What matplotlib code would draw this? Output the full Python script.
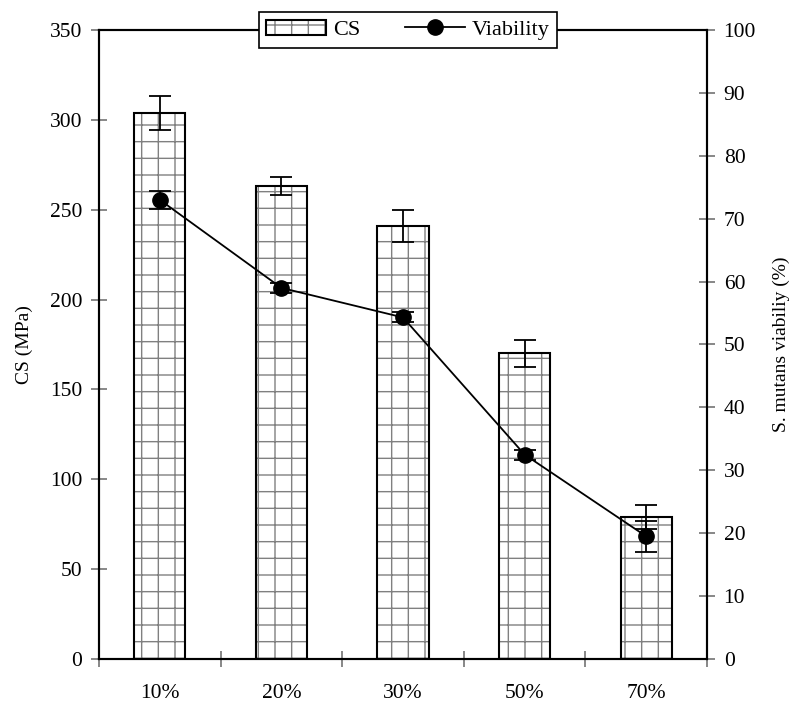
import matplotlib.pyplot as plt
import numpy as np

plt.rcParams['font.family'] = ['Liberation Serif', 'DejaVu Serif']
plt.rcParams['hatch.linewidth'] = 1.0

groups = ['10%', '20%', '30%', '50%', '70%']
cs = [304, 263, 241, 170, 79]
cs_err = [9.5, 5, 9, 7.5, 6.5]
viability = [73, 59, 54.3, 32.5, 19.5]
viab_err = [1.4, 0.8, 0.8, 0.8, 2.5]

fig = plt.figure(figsize=(7.93, 7.07), dpi=100)
ax = fig.add_axes([99 / 793, 48 / 707, 608 / 793, 629 / 707])
ax2 = ax.twinx()

x = np.arange(len(groups))
bars = ax.bar(x, cs, width=0.42, color='white', edgecolor='black', linewidth=1.5,
              hatch='+', label='CS', zorder=2)
for b in bars:
    b._hatch_color = (0.5, 0.5, 0.5, 1)
ax.errorbar(x, cs, yerr=cs_err, fmt='none', ecolor='black', elinewidth=1.3,
            capsize=8, capthick=1.3, zorder=3)

ax2.errorbar(x, viability, yerr=viab_err, fmt='none', ecolor='black',
             elinewidth=1.3, capsize=8, capthick=1.3)
line, = ax2.plot(x, viability, '-o', color='black', lw=1.3, ms=11, label='Viability')

ax.set_xlim(-0.5, 4.5)
ax.set_ylim(0, 350)
ax2.set_ylim(0, 100)
ax.set_yticks(np.arange(0, 351, 50))
ax2.set_yticks(np.arange(0, 101, 10))
ax.set_xticks(np.arange(-0.5, 4.6, 1))
ax.set_xticklabels([])
ax.set_xticks(x, minor=True)
ax.set_xticklabels(groups, minor=True)
ax.tick_params(axis='x', which='minor', length=0, pad=18, labelsize=15.5)
ax.tick_params(axis='x', which='major', direction='inout', length=12, width=1.2, color='0.45')
ax.tick_params(axis='y', direction='inout', length=12, width=1.2, color='0.45', labelsize=15.5, pad=6)
ax2.tick_params(axis='y', direction='inout', length=12, width=1.2, color='0.45', labelsize=15.5, pad=6)

for a in (ax, ax2):
    for s in a.spines.values():
        s.set_linewidth(1.5)
        s.set_color('black')

ax.set_ylabel('CS (MPa)', fontsize=14, labelpad=12)
ax2.set_ylabel('S. mutans viabiliy (%)', fontsize=14, labelpad=12)

leg = ax2.legend([bars, line], ['CS', 'Viability'], loc='center', bbox_to_anchor=(0.508, 1.0),
                 ncol=2, fontsize=16, frameon=True, fancybox=False, edgecolor='black',
                 framealpha=1, handlelength=2.7, handletextpad=0.3, columnspacing=2.0,
                 borderpad=0.35, borderaxespad=0)
leg.get_frame().set_linewidth(1.2)

fig.savefig('out.png', dpi=100)
